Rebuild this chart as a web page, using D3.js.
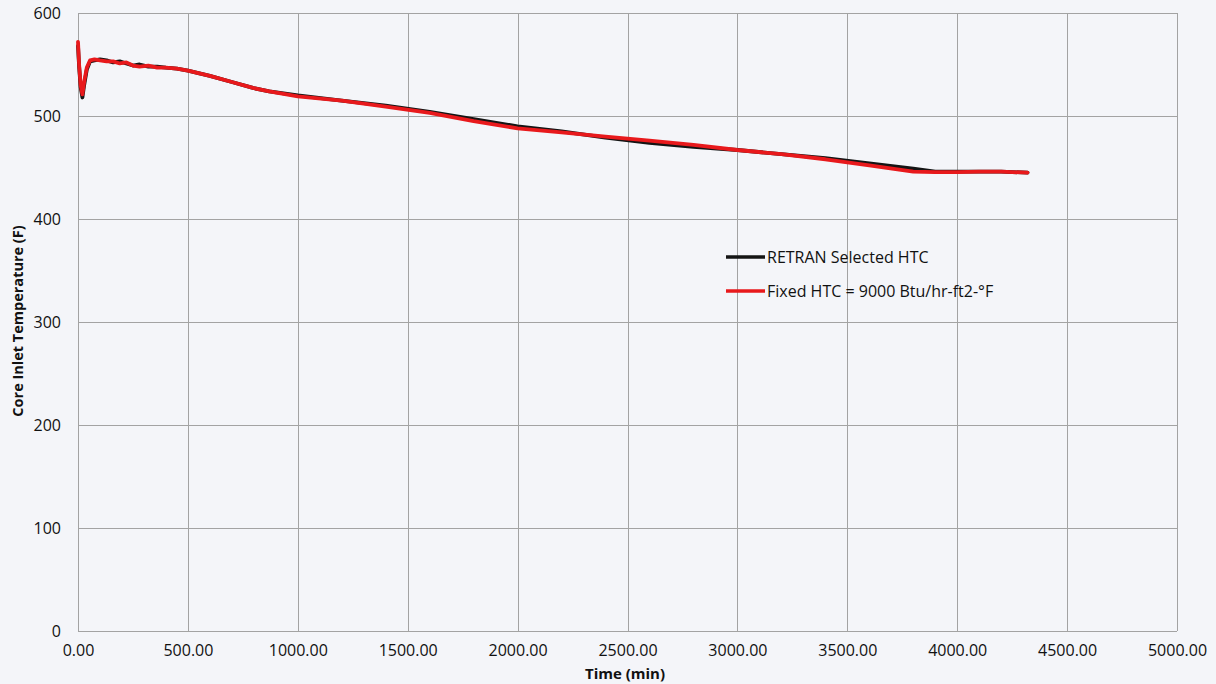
<!DOCTYPE html>
<html>
<head>
<meta charset="utf-8">
<script src="https://cdn.jsdelivr.net/npm/d3@7"></script>
<style>
  html, body { margin: 0; padding: 0; background: #f4f5f9; }
  svg { display: block; }
  text { font-family: "Open Sans", "Noto Sans", sans-serif; fill: #111; }
</style>
</head>
<body>
<svg id="chart" width="1216" height="684"></svg>
<script>
// Time axis (minutes)
const timeMin = [0, 5, 12, 20, 28, 40, 55, 75, 100, 130, 160, 190, 220, 250, 280, 320, 360, 400, 450, 500,
  600, 700, 800, 870, 1000, 1200, 1400, 1600, 1800, 2000, 2200, 2400, 2600, 2800, 3000, 3200, 3400, 3600,
  3800, 3900, 4000, 4100, 4200, 4320];

// Core inlet temperature (F), RETRAN selected heat transfer coefficient
const retranTemp = [568, 548, 528, 518, 530, 545, 553, 554, 555, 554, 552, 553, 551, 549, 550, 548, 548, 547, 546, 544,
  539, 533, 527, 524, 520, 515, 510, 504, 497, 490, 485, 479, 474, 470, 467, 463, 459, 454,
  449, 446, 446, 446, 446, 445];

// Core inlet temperature (F), fixed heat transfer coefficient
const fixedTemp = [572, 550, 530, 521, 533, 547, 554, 555, 554, 553, 553, 551, 552, 549, 548, 549, 547, 547, 546, 544,
  539, 533, 527, 524, 519, 515, 509, 503, 495, 488, 484, 480, 476, 472, 467, 463, 458, 452,
  446, 445.5, 445.5, 446, 446, 445];

const xTicks = [0, 500, 1000, 1500, 2000, 2500, 3000, 3500, 4000, 4500, 5000];
const yTicks = [0, 100, 200, 300, 400, 500, 600];

const seriesNames = ["RETRAN Selected HTC", "Fixed HTC = 9000 Btu/hr-ft2-°F"];
const seriesColors = ["#141414", "#e8191c"];

const svg = d3.select("#chart");
const plotL = 78, plotR = 1177, plotT = 13, plotB = 631;

const x = d3.scaleLinear().domain([0, 5000]).range([plotL, plotR]);
const y = d3.scaleLinear().domain([0, 600]).range([plotB, plotT]);

// Grid lines
const grid = svg.append("g").attr("stroke", "#a3a3a3").attr("stroke-width", 1).attr("shape-rendering", "crispEdges");
grid.selectAll(".vx").data(xTicks).join("line")
  .attr("x1", d => Math.round(x(d)) + 0.5).attr("x2", d => Math.round(x(d)) + 0.5)
  .attr("y1", plotT).attr("y2", plotB);
grid.selectAll(".hy").data(yTicks).join("line")
  .attr("x1", plotL).attr("x2", plotR)
  .attr("y1", d => Math.round(y(d)) + 0.5).attr("y2", d => Math.round(y(d)) + 0.5);

// Axes (labels only; lines come from the grid)
const xAxis = svg.append("g").attr("transform", `translate(0,${plotB})`)
  .call(d3.axisBottom(x).tickValues(xTicks).tickFormat(d3.format(".2f")).tickSize(0).tickPadding(14));
xAxis.select(".domain").remove();
xAxis.selectAll("text").style("font-size", "16px").style("font-family", "'Open Sans', sans-serif").attr("fill", "#111");

const yAxis = svg.append("g").attr("transform", `translate(${plotL},0)`)
  .call(d3.axisLeft(y).tickValues(yTicks).tickFormat(d3.format("d")).tickSize(0).tickPadding(17));
yAxis.select(".domain").remove();
yAxis.selectAll("text").style("font-size", "16px").style("font-family", "'Open Sans', sans-serif").attr("fill", "#111");

// Axis titles
svg.append("text").attr("x", 625).attr("y", 679).attr("text-anchor", "middle")
  .style("font-size", "15px").style("font-weight", "bold").text("Time (min)");
svg.append("text").attr("transform", "translate(23,321) rotate(-90)").attr("text-anchor", "middle")
  .style("font-size", "14.5px").style("font-weight", "bold").text("Core Inlet Temperature (F)");

// Series lines
const line = d3.line().x((d, i) => x(timeMin[i])).y(d => y(d));
[retranTemp, fixedTemp].forEach((vals, k) => {
  svg.append("path").datum(vals)
    .attr("fill", "none").attr("stroke", seriesColors[k])
    .attr("stroke-width", 3.8).attr("stroke-linejoin", "round").attr("stroke-linecap", "round")
    .attr("d", line);
});

// Legend
const legend = svg.append("g");
seriesNames.forEach((name, k) => {
  const ly = 257 + k * 34;
  legend.append("line").attr("x1", 726).attr("x2", 765).attr("y1", ly).attr("y2", ly)
    .attr("stroke", seriesColors[k]).attr("stroke-width", 3.5);
  legend.append("text").attr("x", 767).attr("y", ly + 6).style("font-size", "16px").text(name);
});
</script>
</body>
</html>
